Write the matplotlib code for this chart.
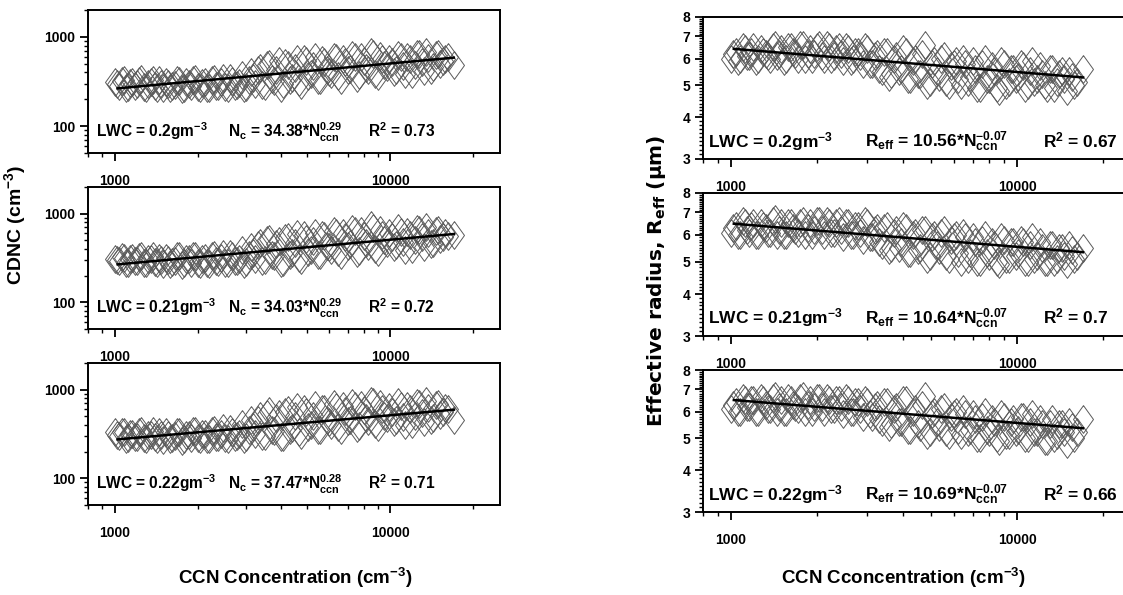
import matplotlib
matplotlib.use('Agg')
import matplotlib.pyplot as plt
from matplotlib.ticker import NullFormatter
from matplotlib import font_manager

plt.rcParams['font.family'] = ['Liberation Sans', 'DejaVu Sans']
plt.rcParams['font.weight'] = 'bold'

# narrow bold face for the in-panel annotations, if installed
try:
    font_manager.findfont(font_manager.FontProperties(family='Liberation Sans Narrow',
                                                      weight='bold'),
                          fallback_to_default=False)
    ANN = 'Liberation Sans Narrow'
    ANN_SIZE_L, ANN_SIZE_R = 13, 14.5
except Exception:
    ANN = 'Liberation Sans'
    ANN_SIZE_L, ANN_SIZE_R = 11.2, 12.5

plt.rcParams['mathtext.fontset'] = 'custom'
plt.rcParams['mathtext.rm'] = ANN + ':bold'
plt.rcParams['mathtext.bf'] = ANN + ':bold'
plt.rcParams['mathtext.it'] = ANN + ':bold'
plt.rcParams['mathtext.default'] = 'rm'

# ---------------- data ----------------
ccn = [1000, 1040, 1080, 1120, 1160, 1200, 1250, 1300, 1350, 1400, 1450, 1500,
       1560, 1620, 1680, 1750, 1820, 1890, 1960, 2040, 2120, 2200, 2290, 2380,
       2470, 2570, 2670, 2780, 2890, 3000, 3120, 3240, 3370, 3500, 3640, 3780,
       3930, 4080, 4240, 4410, 4580, 4760, 4950, 5140, 5340, 5550, 5770, 6000,
       6230, 6480, 6730, 7000, 7270, 7560, 7850, 8160, 8480, 8810, 9160, 9520,
       9890, 10300, 10700, 11100, 11500, 12000, 12500, 13000, 13500, 14000,
       14600, 15200, 15800, 17000]
ccn_b = [1020, 1060, 1100, 1140, 1180, 1225, 1275, 1325, 1375, 1425, 1475, 1530,
         1590, 1650, 1715, 1785, 1855, 1925, 2000, 2080, 2160, 2245, 2335, 2425,
         2520, 2620, 2725, 2835, 2945, 3060, 3180, 3300, 3435, 3570, 3710, 3855,
         4005, 4160, 4325, 4495, 4670, 4855, 5045, 5240, 5445, 5660, 5885, 6115,
         6355, 6605, 6865, 7135, 7415, 7705, 8005, 8320, 8645, 8985, 9340, 9705,
         10100, 10500, 10900, 11300, 11750, 12250, 12750, 13250, 13750, 14300,
         14900, 15500, 16200]

cdnc_020 = [310, 285, 325, 275, 315, 300, 335, 270, 310, 285, 330, 265,
            300, 280, 330, 260, 310, 280, 340, 270, 315, 265, 340, 280,
            350, 270, 320, 290, 370, 275, 400, 300, 450, 285, 500, 320,
            540, 300, 490, 350, 560, 290, 530, 380, 590, 330, 520, 400,
            600, 360, 560, 420, 620, 350, 590, 450, 680, 380, 610, 480,
            560, 400, 630, 470, 600, 380, 650, 520, 680, 430, 620, 500,
            560, 480]
cdnc_020b = [295, 320, 270, 305, 285, 320, 275, 300, 330, 270, 295, 315,
             265, 290, 320, 270, 300, 325, 275, 305, 270, 330, 285, 310,
             275, 345, 285, 305, 265, 330, 350, 420, 290, 480, 340, 430,
             270, 510, 330, 450, 310, 560, 360, 470, 330, 550, 420, 380,
             580, 330, 520, 440, 600, 370, 540, 420, 650, 360, 560, 460,
             520, 430, 600, 380, 560, 490, 640, 410, 580, 460, 650, 530,
             600]
cdnc_021 = [310, 290, 320, 280, 315, 290, 330, 275, 305, 285, 320, 270,
            300, 285, 335, 265, 305, 280, 330, 270, 320, 270, 340, 285,
            355, 275, 330, 295, 390, 285, 420, 310, 470, 300, 520, 330,
            490, 285, 550, 360, 590, 300, 520, 390, 610, 340, 560, 420,
            640, 370, 600, 430, 670, 360, 630, 470, 740, 400, 650, 500,
            600, 420, 690, 480, 620, 400, 670, 540, 700, 450, 640, 520,
            600, 580]
cdnc_021b = [300, 325, 275, 310, 290, 325, 280, 305, 335, 275, 300, 320,
             270, 295, 330, 275, 305, 330, 280, 310, 275, 335, 290, 315,
             280, 350, 290, 310, 270, 340, 360, 440, 295, 500, 345, 450,
             280, 530, 340, 470, 320, 580, 370, 490, 340, 570, 430, 390,
             600, 340, 540, 450, 630, 380, 560, 430, 690, 370, 580, 470,
             540, 440, 620, 390, 580, 500, 660, 420, 600, 470, 660, 540,
             560]
cdnc_022 = [330, 300, 335, 285, 320, 295, 340, 275, 310, 290, 330, 270,
            305, 285, 335, 265, 310, 285, 345, 275, 320, 275, 350, 290,
            365, 280, 335, 300, 410, 290, 450, 320, 510, 300, 570, 340,
            530, 295, 590, 370, 630, 310, 560, 400, 670, 350, 600, 430,
            690, 380, 650, 440, 710, 370, 670, 480, 740, 410, 690, 500,
            640, 430, 720, 490, 660, 410, 710, 550, 740, 460, 680, 520,
            620, 450]
cdnc_022b = [310, 335, 280, 320, 295, 335, 285, 310, 345, 280, 305, 330,
             275, 300, 335, 280, 310, 340, 285, 315, 280, 345, 295, 320,
             285, 360, 295, 315, 275, 350, 380, 460, 300, 530, 355, 480,
             290, 560, 350, 500, 330, 610, 380, 510, 350, 600, 450, 400,
             640, 350, 570, 460, 660, 390, 590, 440, 720, 380, 610, 480,
             560, 450, 650, 400, 600, 510, 690, 430, 620, 480, 690, 560,
             600]
reff_020 = [6.0, 6.3, 6.0, 6.4, 6.1, 6.5, 6.0, 6.3, 6.1, 6.5, 6.1, 6.4,
            6.0, 6.5, 6.2, 6.6, 6.0, 6.4, 6.2, 6.6, 6.0, 6.5, 6.1, 6.5,
            5.9, 6.4, 6.0, 6.3, 5.8, 6.4, 5.8, 6.2, 5.5, 6.3, 5.4, 6.1,
            5.6, 6.3, 5.2, 6.0, 5.4, 6.6, 5.1, 5.9, 5.3, 6.1, 5.0, 5.8,
            5.2, 6.0, 5.1, 5.9, 4.9, 5.8, 5.2, 5.7, 4.9, 5.9, 5.0, 5.6,
            5.2, 5.8, 4.9, 5.5, 5.1, 5.7, 5.0, 5.6, 4.9, 5.4, 5.2, 5.5,
            5.0, 5.6]
reff_020b = [6.2, 5.9, 6.5, 6.1, 6.3, 5.9, 6.4, 6.2, 6.0, 6.6, 6.2, 5.9,
             6.5, 6.3, 6.0, 6.6, 6.2, 6.0, 6.5, 6.1, 6.6, 6.0, 6.4, 6.2,
             6.5, 5.9, 6.3, 6.1, 6.5, 5.8, 6.1, 5.6, 6.3, 5.3, 6.0, 5.5,
             6.4, 5.2, 5.9, 5.4, 6.2, 5.0, 5.8, 5.5, 6.0, 5.1, 5.7, 5.9,
             5.0, 5.8, 5.3, 5.6, 4.9, 6.0, 5.2, 5.5, 4.8, 5.8, 5.1, 5.6,
             5.3, 5.7, 5.0, 5.9, 5.2, 5.4, 4.9, 5.6, 5.1, 5.5, 4.8, 5.3,
             5.1]
reff_021 = [6.1, 6.4, 6.0, 6.5, 6.1, 6.5, 6.0, 6.4, 6.1, 6.6, 6.0, 6.5,
            6.0, 6.5, 6.2, 6.5, 6.0, 6.5, 6.2, 6.6, 6.0, 6.5, 6.1, 6.6,
            5.9, 6.5, 6.0, 6.4, 5.8, 6.5, 5.9, 6.3, 5.6, 6.4, 5.5, 6.2,
            5.7, 6.3, 5.3, 6.1, 5.5, 6.2, 5.2, 6.0, 5.4, 6.2, 5.1, 5.9,
            5.3, 6.1, 5.1, 5.9, 5.0, 5.8, 5.3, 5.7, 5.0, 5.9, 5.1, 5.7,
            5.2, 5.8, 5.0, 5.6, 5.1, 5.7, 5.0, 5.6, 5.0, 5.5, 5.2, 5.6,
            5.1, 5.5]
reff_021b = [6.3, 6.0, 6.6, 6.2, 6.4, 6.0, 6.5, 6.3, 6.1, 6.7, 6.2, 6.0,
             6.5, 6.3, 6.1, 6.6, 6.3, 6.0, 6.6, 6.2, 6.6, 6.1, 6.5, 6.2,
             6.5, 6.0, 6.4, 6.1, 6.6, 5.9, 6.2, 5.7, 6.3, 5.4, 6.1, 5.5,
             6.4, 5.3, 6.0, 5.4, 6.2, 5.1, 5.9, 5.6, 6.1, 5.2, 5.8, 6.0,
             5.0, 5.9, 5.3, 5.7, 5.0, 6.0, 5.2, 5.6, 4.9, 5.8, 5.1, 5.7,
             5.3, 5.7, 5.0, 5.9, 5.2, 5.5, 5.0, 5.6, 5.1, 5.5, 4.9, 5.4,
             5.2]
reff_022 = [6.1, 6.4, 6.0, 6.5, 6.2, 6.5, 6.0, 6.5, 6.1, 6.6, 6.0, 6.5,
            6.0, 6.5, 6.2, 6.6, 6.0, 6.5, 6.2, 6.6, 6.0, 6.5, 6.1, 6.5,
            5.9, 6.5, 6.0, 6.4, 5.8, 6.4, 5.8, 6.3, 5.6, 6.4, 5.5, 6.2,
            5.6, 6.5, 5.3, 6.1, 5.4, 6.7, 5.2, 6.0, 5.4, 6.2, 5.1, 5.9,
            5.3, 6.1, 5.2, 5.9, 5.0, 5.8, 5.3, 5.7, 5.0, 5.9, 5.1, 5.6,
            5.2, 5.8, 5.0, 5.6, 5.2, 5.7, 4.9, 5.5, 5.0, 5.5, 5.2, 5.6,
            5.0, 5.7]
reff_022b = [6.3, 6.0, 6.6, 6.2, 6.5, 6.0, 6.6, 6.3, 6.1, 6.7, 6.2, 6.0,
             6.6, 6.3, 6.1, 6.7, 6.3, 6.0, 6.6, 6.2, 6.6, 6.1, 6.5, 6.2,
             6.6, 6.0, 6.4, 6.1, 6.5, 5.9, 6.2, 5.7, 6.4, 5.4, 6.1, 5.6,
             6.5, 5.3, 6.0, 5.5, 6.3, 5.1, 5.9, 5.6, 6.1, 5.2, 5.8, 6.0,
             5.1, 5.9, 5.3, 5.7, 5.0, 6.0, 5.2, 5.6, 4.9, 5.8, 5.1, 5.7,
             5.3, 5.8, 5.0, 5.9, 5.2, 5.5, 4.9, 5.7, 5.1, 5.5, 4.8, 5.4,
             5.2]

fit_x = [1025, 17000]
fit_cdnc = [[265, 585], [268, 590], [275, 595]]
fit_reff = [[6.42, 5.27], [6.48, 5.33], [6.5, 5.35]]

lwc_labels = ['LWC = 0.2gm$^{-3}$', 'LWC = 0.21gm$^{-3}$', 'LWC = 0.22gm$^{-3}$']
nc_labels = ['N$_c$ = 34.38*N$_{ccn}^{0.29}$', 'N$_c$ = 34.03*N$_{ccn}^{0.29}$',
             'N$_c$ = 37.47*N$_{ccn}^{0.28}$']
nc_r2 = ['R$^2$ = 0.73', 'R$^2$ = 0.72', 'R$^2$ = 0.71']
reff_labels = ['R$_{eff}$ = 10.56*N$_{ccn}^{-0.07}$', 'R$_{eff}$ = 10.64*N$_{ccn}^{-0.07}$',
               'R$_{eff}$ = 10.69*N$_{ccn}^{-0.07}$']
reff_r2 = ['R$^2$ = 0.67', 'R$^2$ = 0.7', 'R$^2$ = 0.66']

cdnc_sets = [(cdnc_020, cdnc_020b), (cdnc_021, cdnc_021b), (cdnc_022, cdnc_022b)]
reff_sets = [(reff_020, reff_020b), (reff_021, reff_021b), (reff_022, reff_022b)]

# ---------------- figure ----------------
W, H = 1123, 595
fig = plt.figure(figsize=(W / 100, H / 100), dpi=100)

def px_axes(x0, x1, y0, y1):
    return fig.add_axes([x0 / W, 1 - y1 / H, (x1 - x0) / W, (y1 - y0) / H])

left_rows = [(10, 153), (187, 329), (363, 505)]
right_rows = [(17, 159), (193, 336), (370, 512)]

diamond = [(0, 1), (0.72, 0), (0, -1), (-0.72, 0), (0, 1)]
xminor = [800, 900, 2000, 3000, 4000, 5000, 6000, 7000, 8000, 9000, 20000]

def style(ax):
    ax.set_xscale('log')
    ax.set_xlim(800, 25000)
    ax.set_xticks([1000, 10000], labels=['1000', '10000'])
    ax.set_xticks(xminor, minor=True)
    ax.xaxis.set_minor_formatter(NullFormatter())
    for s in ax.spines.values():
        s.set_linewidth(1.4)
    ax.tick_params(which='major', direction='out', length=6, width=1.3,
                   labelsize=10, top=False, right=False)
    ax.tick_params(which='minor', direction='out', length=3, width=1.0,
                   top=False, right=False)
    ax.tick_params(axis='x', which='major', pad=9)
    ax.tick_params(axis='y', which='major', pad=3)
    for lab in ax.get_xticklabels() + ax.get_yticklabels():
        lab.set_fontweight('bold')

def note(ax, x, y, s, size):
    ax.text(x, y, s, transform=ax.transAxes, fontsize=size, family=ANN,
            fontweight='bold', va='baseline')

def scatter(ax, ys, ys_b):
    for xs, yv in ((ccn, ys), (ccn_b, ys_b)):
        ax.plot(xs, yv, ls='none', marker=diamond, ms=20, mfc='none',
                mec='#5a5a5a', mew=0.7)

for i, (y0, y1) in enumerate(left_rows):
    ax = px_axes(88, 500, y0, y1)
    scatter(ax, *cdnc_sets[i])
    ax.plot(fit_x, fit_cdnc[i], color='black', lw=1.8)
    ax.set_yscale('log')
    ax.set_ylim(50, 2000)
    ax.set_yticks([100, 1000], labels=['100', '1000'])
    ax.set_yticks([50, 60, 70, 80, 90, 200, 300, 400, 500, 600, 700, 800, 900, 2000],
                  minor=True)
    ax.yaxis.set_minor_formatter(NullFormatter())
    style(ax)
    note(ax, 0.019, 0.11, lwc_labels[i], ANN_SIZE_L)
    note(ax, 0.340, 0.11, nc_labels[i], ANN_SIZE_L)
    note(ax, 0.680, 0.11, nc_r2[i], ANN_SIZE_L)

for i, (y0, y1) in enumerate(right_rows):
    ax = px_axes(703, 1131, y0, y1)
    scatter(ax, *reff_sets[i])
    ax.plot(fit_x, fit_reff[i], color='black', lw=1.8)
    ax.set_yscale('log')
    ax.set_ylim(3, 8)
    ax.set_yticks([3, 4, 5, 6, 7, 8], labels=['3', '4', '5', '6', '7', '8'])
    minors = [v / 10 for v in range(31, 80) if v % 10 != 0]
    ax.set_yticks(minors, minor=True)
    ax.yaxis.set_minor_formatter(NullFormatter())
    style(ax)
    note(ax, 0.012, 0.085, lwc_labels[i], ANN_SIZE_R)
    note(ax, 0.378, 0.085, reff_labels[i], ANN_SIZE_R)
    note(ax, 0.794, 0.085, reff_r2[i], ANN_SIZE_R)

fig.text(15 / W, 1 - 225 / H, 'CDNC (cm$^{-3}$)', rotation=90, ha='center',
         va='center', fontsize=14, fontweight='bold')
fig.text(657 / W, 1 - 281 / H, 'Effective radius, R$_{eff}$ (\u03bcm)', rotation=90,
         ha='center', va='center', fontsize=14.5, fontweight='bold',
         family=['DejaVu Sans'], math_fontfamily='dejavusans')
fig.text(295 / W, 1 - 578 / H, 'CCN Concentration (cm$^{-3}$)', ha='center',
         va='center', fontsize=13.5, fontweight='bold')
fig.text(903 / W, 1 - 578 / H, 'CCN Cconcentration (cm$^{-3}$)', ha='center',
         va='center', fontsize=13.5, fontweight='bold')

fig.savefig('out.png', dpi=100)
